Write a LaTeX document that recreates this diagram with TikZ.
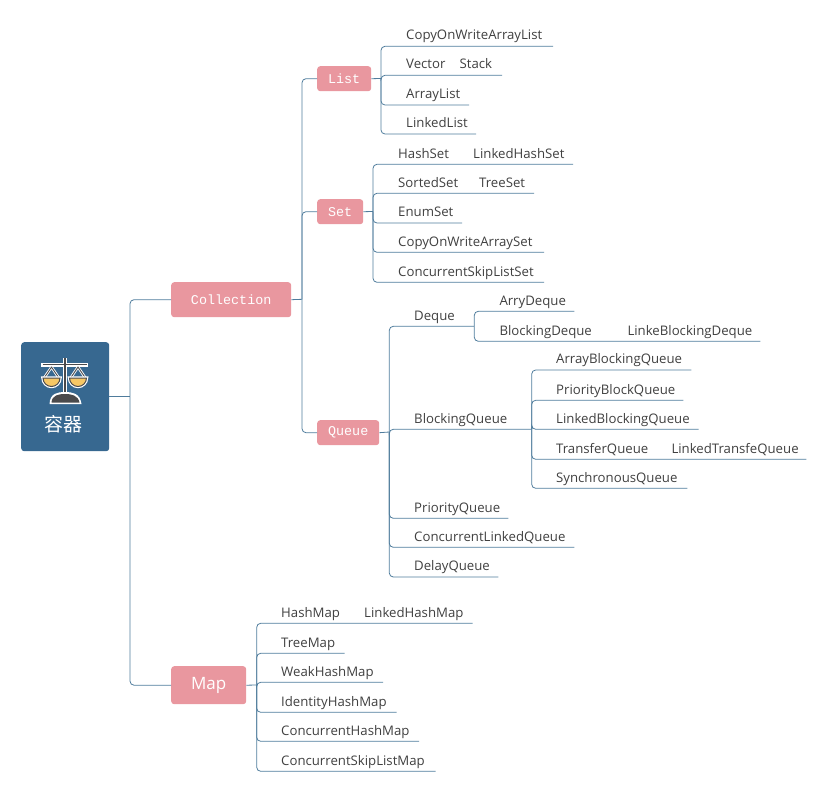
\documentclass[tikz,border=0pt]{standalone}
\usepackage{fontspec}
\setmainfont{Open Sans}
\newfontfamily\monof{Liberation Mono}
\newfontfamily\cjkf{Noto Sans CJK SC}
\usetikzlibrary{calc}
\definecolor{linec}{HTML}{4F7C9C}
\definecolor{rootc}{HTML}{376890}
\definecolor{pinkc}{HTML}{E9979F}
\definecolor{textc}{HTML}{404040}
\definecolor{goldc}{HTML}{F6C765}
\definecolor{darkc}{HTML}{4A4A4C}
\tikzset{
  x=1pt,y=-1pt,
  conn/.style={draw=linec,line width=0.8pt,rounded corners=4pt},
  leaf/.style={font=\fontsize{13.2pt}{15pt}\selectfont,text=textc,anchor=base west,inner sep=0pt},
  pinkbox/.style={fill=pinkc,rounded corners=3pt,text=white,inner sep=0pt,anchor=north west},
  mono/.style={font=\monof\fontsize{13.4pt}{15pt}\selectfont},
}
\begin{document}
\begin{tikzpicture}
\useasboundingbox (0,0) rectangle (827,792);
% branch nodes
\node[fill=rootc,rounded corners=3pt,inner sep=0pt,anchor=north west,minimum width=88pt,minimum height=109pt] (root) at (21,342) {};
\node[pinkbox,mono,minimum width=120pt,minimum height=35pt] (coll) at (171,282) {Collection};
\node[pinkbox,font=\fontsize{17pt}{20pt}\selectfont,minimum width=75pt,minimum height=38pt] (map) at (171,666) {Map};
\node[pinkbox,mono,minimum width=54pt,minimum height=25pt] (list) at (317,66) {List};
\node[pinkbox,mono,minimum width=46pt,minimum height=25pt] (set) at (317,199) {Set};
\node[pinkbox,mono,minimum width=62pt,minimum height=25pt] (queue) at (317,420) {Queue};
\node[text=white,inner sep=0pt,font=\cjkf\fontsize{19pt}{21pt}\selectfont] (roottxt) at (63.5,424) {容器};
% scale icon
\draw[white,line width=4pt] (65,358) -- (65,400);
\draw[white,line width=4pt] (41,364.5) -- (88,364.5);
\draw[darkc,line width=1.4pt] (65,358) -- (65,400);
\draw[darkc,line width=1.2pt] (42.5,364.5) -- (86.5,364.5);
\foreach \cx in {51.5,78}{
  \draw[white,line width=2.6pt,line join=round] (\cx-7.4,378) -- (\cx,367) -- (\cx+7.4,378);
  \draw[darkc,line width=0.9pt,line join=round] (\cx-7.4,378) -- (\cx,367) -- (\cx+7.4,378);
  \path[fill=goldc,draw=white,line width=3.4pt] (\cx-8.5,378) arc[start angle=180,end angle=0,radius=8.5] -- cycle;
  \path[fill=goldc,draw=darkc,line width=1pt] (\cx-8.5,378) arc[start angle=180,end angle=0,radius=8.5] -- cycle;
}
\fill[white] (49.5,404) .. controls (50,393) and (58,392) .. (65,392) .. controls (72,392) and (80,393) .. (81.5,404) -- cycle;
\fill[darkc] (51.5,402.5) .. controls (52,395) and (59,394) .. (65,394) .. controls (71,394) and (78,395) .. (79.5,402.5) -- cycle;
% main connectors
\coordinate (rootfork) at (130,396.3);
\draw[conn] (root.east |- rootfork) -- (rootfork);
\draw[conn] (coll.west) -| (rootfork);
\draw[conn] (map.west) -| (rootfork);
\coordinate (collfork) at (302,299.3);
\draw[conn] (coll.east) -- (collfork);
\draw[conn] (list.west) -| (collfork);
\draw[conn] (set.west) -| (collfork);
\draw[conn] (queue.west) -| (collfork);
% List
\coordinate (listfork) at (381,78.5);
\draw[conn] (list.east) -- (listfork);
\foreach \n/\y/\e/\t in {a/46.3/553/CopyOnWriteArrayList,b/75.3/502/Vector,c/105/469/ArrayList,d/134/476/LinkedList}{
  \node[leaf] (list\n) at (406,\y-6.3) {\t};
  \coordinate (liste\n) at (\e,\y);
  \draw[conn] (listfork) |- (liste\n);
}
\node[leaf] (stack) at (459.5,75.3-6.3) {Stack};
% Set
\coordinate (setfork) at (373,211.5);
\draw[conn] (set.east) -- (setfork);
\foreach \n/\y/\e/\t in {a/164.3/573/HashSet,b/193.3/534/SortedSet,c/223/462/EnumSet,d/252.3/544/CopyOnWriteArraySet,e/282.3/544/ConcurrentSkipListSet}{
  \node[leaf] (set\n) at (398,\y-6.3) {\t};
  \coordinate (sete\n) at (\e,\y);
  \draw[conn] (setfork) |- (sete\n);
}
\node[leaf] (lhs) at (473,164.3-6.3) {LinkedHashSet};
\node[leaf] (ts) at (479,193.3-6.3) {TreeSet};
% Queue
\coordinate (qfork) at (389.3,432);
\draw[conn] (queue.east) -- (qfork);
\foreach \n/\y/\e/\t in {c/518.3/508.3/PriorityQueue,d/547.3/574.3/ConcurrentLinkedQueue,e/577/498.3/DelayQueue}{
  \node[leaf] (q\n) at (414,\y-6.3) {\t};
  \coordinate (qe\n) at (\e,\y);
  \draw[conn] (qfork) |- (qe\n);
}
% Deque
\node[leaf] (deque) at (414,326.3-6.3) {Deque};
\coordinate (dfork) at (474.3,326.3);
\draw[conn] (qfork) |- (dfork);
\foreach \n/\y/\e/\t in {a/311.3/574.3/ArryDeque,b/341.3/760.3/BlockingDeque}{
  \node[leaf] (d\n) at (499.3,\y-6.3) {\t};
  \coordinate (de\n) at (\e,\y);
  \draw[conn] (dfork) |- (de\n);
}
\node[leaf] (lbd) at (627.3,341.3-6.3) {LinkeBlockingDeque};
% BlockingQueue
\node[leaf] (bq) at (414,429.3-6.3) {BlockingQueue};
\coordinate (bfork) at (531.7,429.3);
\draw[conn] (qfork) |- (bfork);
\foreach \n/\y/\e/\t in {a/370/691.3/ArrayBlockingQueue,b/400.3/683.3/PriorityBlockQueue,c/429.3/698.7/LinkedBlockingQueue,d/459.3/806.3/TransferQueue,e/488.3/687.3/SynchronousQueue}{
  \node[leaf] (b\n) at (556,\y-6.3) {\t};
  \coordinate (be\n) at (\e,\y);
  \draw[conn] (bfork) |- (be\n);
}
\node[leaf] (ltq) at (671.3,459.3-6.3) {LinkedTransfeQueue};
% Map
\coordinate (mfork) at (256.7,685);
\draw[conn] (map.east) -- (mfork);
\foreach \n/\y/\e/\t in {a/623.3/472.7/HashMap,b/653.3/344.7/TreeMap,c/682.3/383/WeakHashMap,d/712.3/396.7/IdentityHashMap,e/741.3/419/ConcurrentHashMap,f/771.3/435.7/ConcurrentSkipListMap}{
  \node[leaf] (m\n) at (281,\y-6.3) {\t};
  \coordinate (me\n) at (\e,\y);
  \draw[conn] (mfork) |- (me\n);
}
\node[leaf] (lhm) at (364,623.3-6.3) {LinkedHashMap};
\end{tikzpicture}
\end{document}
